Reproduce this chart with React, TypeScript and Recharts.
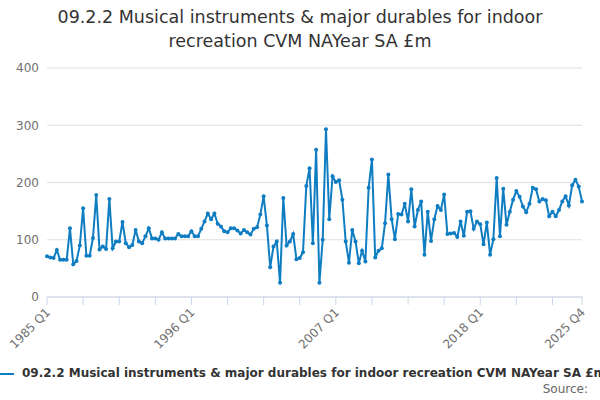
import React from 'react';
import { LineChart, Line, CartesianGrid, XAxis, YAxis } from 'recharts';

const values: number[] = [
  71, 69, 68, 82, 65, 65, 65, 120, 57, 63, 90, 155, 72, 72, 103, 178,
  83, 88, 84, 171, 85, 97, 97, 131, 94, 87, 91, 117, 97, 94, 106, 120,
  102, 102, 100, 113, 102, 102, 102, 102, 110, 106, 106, 106, 115, 106, 106, 119,
  132, 146, 136, 146, 128, 123, 115, 113, 120, 120, 116, 111, 117, 113, 109, 119,
  122, 144, 176, 125, 52, 88, 97, 25, 173, 90, 97, 110, 66, 68, 78, 194,
  225, 94, 257, 25, 100, 293, 136, 211, 201, 204, 170, 97, 60, 117, 97, 59,
  81, 62, 191, 240, 69, 81, 85, 129, 214, 136, 101, 145, 144, 163, 132, 188,
  123, 152, 167, 74, 149, 98, 136, 159, 152, 179, 110, 111, 112, 105, 132, 107,
  149, 150, 119, 132, 127, 92, 130, 74, 101, 208, 106, 189, 126, 149, 170, 185,
  175, 158, 148, 163, 191, 188, 167, 171, 169, 141, 149, 141, 152, 167, 176, 160,
  195, 205, 193, 167,
];

const quarters: string[] = values.map((_, i) => `${1985 + Math.floor(i / 4)} Q${(i % 4) + 1}`);
const xTicks = [0, 11, 22, 33, 44, 55, 66, 77, 88, 99, 110, 121, 132, 143, 154, 163];
const labelled = [0, 44, 88, 132, 163];
const yTicks = [0, 100, 200, 300, 400];

const data = values.map((v, i) => ({ x: i, value: v }));

const font = '"DejaVu Sans", sans-serif';

function XTick(props: any) {
  const { x, y, payload } = props;
  const idx = payload.value as number;
  if (!labelled.includes(idx)) return null;
  return (
    <text x={x + 4} y={y + 6} transform={`rotate(-45 ${x + 4} ${y + 6})`} textAnchor="end"
      fontSize={12} fill="#707070" fontFamily={font}>
      {quarters[idx]}
    </text>
  );
}

export default function App() {
  return (
    <div style={{ position: 'absolute', left: 0, top: 0, width: 600, height: 400, background: '#fff', fontFamily: font, overflow: 'hidden' }}>
      <div style={{ position: 'absolute', top: 5, left: 0, width: 600, textAlign: 'center', fontSize: 17.5, lineHeight: '24px', color: '#333' }}>
        09.2.2 Musical instruments &amp; major durables for indoor<br />recreation CVM NAYear SA £m
      </div>
      <LineChart width={600} height={400} data={data} margin={{ top: 68, right: 18, bottom: 43, left: 0 }}>
        <CartesianGrid vertical={false} stroke="#e0e0e0" />
        <XAxis dataKey="x" type="number" domain={[0, 163]} ticks={xTicks} interval={0}
          height={60} tick={<XTick />} tickLine={{ stroke: '#ccd6eb' }} axisLine={{ stroke: '#ccd6eb' }} tickSize={8} />
        <YAxis domain={[0, 400]} ticks={yTicks} width={47} axisLine={false} tickLine={false}
          tick={{ fontSize: 12, fill: '#707070', fontFamily: font }} />
        <Line dataKey="value" stroke="#0f7dc2" strokeWidth={2} isAnimationActive={false}
          dot={{ r: 2, fill: '#0f7dc2', stroke: '#0f7dc2', strokeWidth: 0 }} />
      </LineChart>
      <div style={{ position: 'absolute', top: 366, left: 0, whiteSpace: 'nowrap', fontSize: 12, fontWeight: 'bold', color: '#333' }}>
        <span style={{ display: 'inline-block', width: 16, height: 2, background: '#0f7dc2', verticalAlign: 'middle', marginRight: 8, marginLeft: -2 }} />
        09.2.2 Musical instruments &amp; major durables for indoor recreation CVM NAYear SA £m
      </div>
      <div style={{ position: 'absolute', top: 382, right: 12, fontSize: 12, color: '#666' }}>Source:</div>
    </div>
  );
}
